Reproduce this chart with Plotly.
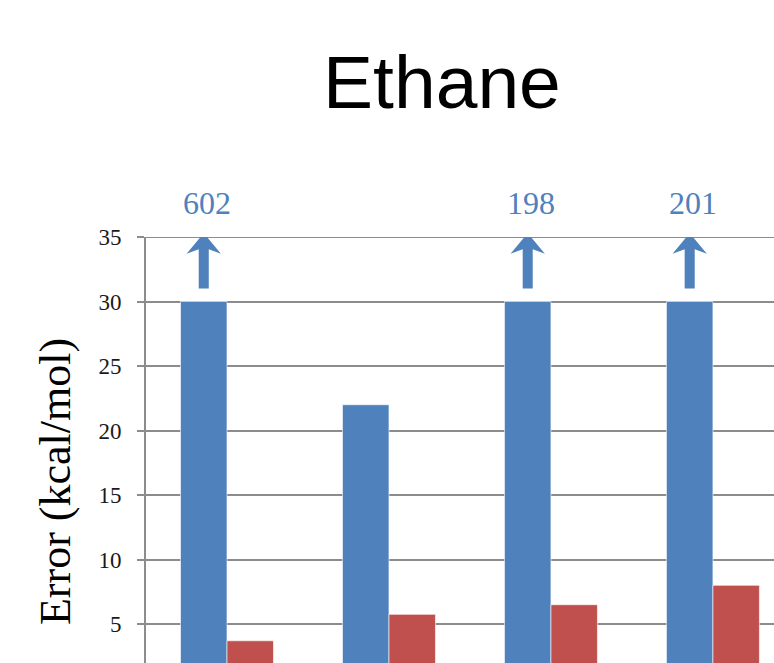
import plotly.graph_objects as go

# Ethane error bars: two series per method; values above the axis cap are flagged with arrows
categories = ["M1", "M2", "M3", "M4"]
series_a = [602, 22, 198, 201]      # blue series (kcal/mol)
series_b = [3.7, 5.75, 6.5, 8.0]    # red series (kcal/mol)
y_ticks = [5, 10, 15, 20, 25, 30, 35]

AXIS_CAP = 30
BLUE = "#4F81BD"
RED = "#C0504D"
GRID = "#8C8C8C"
SERIF = "Liberation Serif, Times New Roman, serif"

Y_MIN, Y_MAX = 1.98, 35.0
bargap = 0.426
shown_a = [min(v, AXIS_CAP) for v in series_a]

fig = go.Figure()
fig.add_trace(go.Bar(x=categories, y=shown_a, marker=dict(color=BLUE, line=dict(color="rgba(255,255,255,0.6)", width=1)),
                     name="A", showlegend=False))
fig.add_trace(go.Bar(x=categories, y=series_b, marker=dict(color=RED, line=dict(color="rgba(255,255,255,0.6)", width=1)),
                     name="B", showlegend=False))

# centre of the blue bar inside each category slot
bar_w = (1 - bargap) / 2
offset = -bar_w / 2

# top gridline drawn explicitly so it sits on the plot edge
shapes = [dict(type="line", xref="paper", yref="y", x0=0, x1=1, y0=Y_MAX, y1=Y_MAX,
               line=dict(color=GRID, width=2), layer="below")]
annotations = []
head_half = 0.106
shaft_half = 0.031
tip_y = 35.3
head_base = 33.7
head_notch = 34.05
shaft_bottom = 31.0
for i, v in enumerate(series_a):
    if v <= AXIS_CAP:
        continue
    cx = i + offset
    path = (f"M {cx - shaft_half} {shaft_bottom} L {cx - shaft_half} {head_notch} "
            f"L {cx - head_half} {head_base} L {cx} {tip_y} L {cx + head_half} {head_base} "
            f"L {cx + shaft_half} {head_notch} L {cx + shaft_half} {shaft_bottom} Z")
    shapes.append(dict(type="path", path=path, xref="x", yref="y",
                       fillcolor=BLUE, line=dict(width=0)))
    annotations.append(dict(x=cx + 0.02, y=1.08, xref="x", yref="paper", text=str(v), showarrow=False,
                            xanchor="center", yanchor="middle",
                            font=dict(family=SERIF, size=32, color=BLUE)))

annotations.append(dict(x=-0.145, y=0.427, xref="paper", yref="paper", text="Error (kcal/mol)",
                        textangle=-90, showarrow=False, xanchor="center", yanchor="middle",
                        font=dict(family=SERIF, size=44, color="#000000")))

fig.update_layout(
    width=774, height=663,
    margin=dict(l=146, r=0, t=237, b=0),
    paper_bgcolor="white", plot_bgcolor="white",
    barmode="group", bargap=bargap, bargroupgap=0,
    title=dict(text="Ethane", x=0.571, xanchor="center", y=0.876, yanchor="middle",
               font=dict(family="Liberation Sans, Arial, sans-serif", size=75, color="#000000")),
    shapes=shapes, annotations=annotations,
)
fig.update_xaxes(range=[-0.5, 3.377], showticklabels=False, showgrid=False,
                 showline=False, ticks="", zeroline=False)
fig.update_yaxes(range=[Y_MIN, Y_MAX], tickvals=y_ticks, showgrid=True, gridcolor=GRID, gridwidth=2,
                 showline=True, linecolor=GRID, linewidth=2, ticks="outside", ticklen=7,
                 tickcolor=GRID, tickwidth=2, zeroline=False, ticklabelstandoff=11,
                 tickfont=dict(family=SERIF, size=23, color="#1a1a1a"))

fig.write_html("out.html")
